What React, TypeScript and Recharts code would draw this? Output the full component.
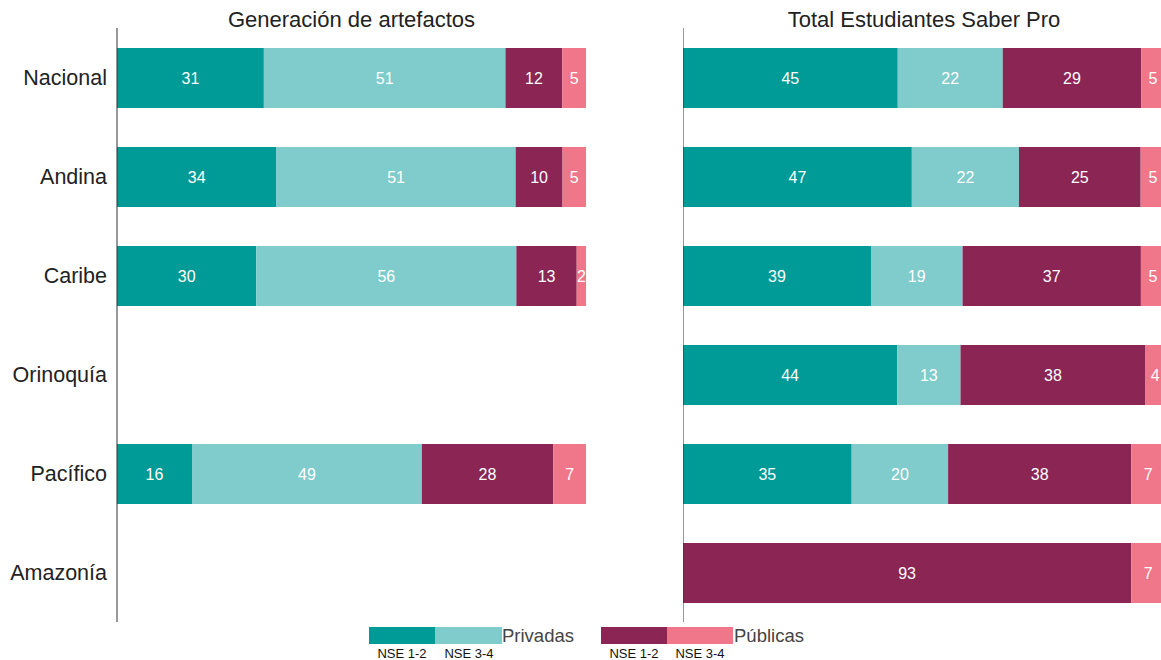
import React from "react";
import { BarChart, Bar, XAxis, YAxis, LabelList, ReferenceLine } from "recharts";

const regions = ["Nacional", "Andina", "Caribe", "Orinoquía", "Pacífico", "Amazonía"];

// Generación de artefactos (0 = sin dato)
const artPrivNse12 = [31, 34, 30, 0, 16, 0];
const artPrivNse34 = [51, 51, 56, 0, 49, 0];
const artPubNse12 = [12, 10, 13, 0, 28, 0];
const artPubNse34 = [5, 5, 2, 0, 7, 0];

// Total Estudiantes Saber Pro
const totPrivNse12 = [45, 47, 39, 44, 35, 0];
const totPrivNse34 = [22, 22, 19, 13, 20, 0];
const totPubNse12 = [29, 25, 37, 38, 38, 93];
const totPubNse34 = [5, 5, 5, 4, 7, 7];

const COLORS = ["#009a97", "#80cbcb", "#8a2554", "#f07689"];
const KEYS = ["p12", "p34", "u12", "u34"];
const FONT = "'Liberation Sans', Arial, sans-serif";

const leftData = regions.map((region, i) => ({
  region,
  p12: artPrivNse12[i],
  p34: artPrivNse34[i],
  u12: artPubNse12[i],
  u34: artPubNse34[i],
}));

const rightData = regions.map((region, i) => ({
  region,
  p12: totPrivNse12[i],
  p34: totPrivNse34[i],
  u12: totPubNse12[i],
  u34: totPubNse34[i],
}));

const hideZero = (v: any) => (v ? v : "");

const renderBars = () =>
  KEYS.map((k, i) => (
    <Bar key={k} dataKey={k} stackId="s" fill={COLORS[i]} barSize={60} isAnimationActive={false}>
      <LabelList dataKey={k} position="center" fill="#ffffff" fontSize={16} formatter={hideZero} />
    </Bar>
  ));

const Legend = () => (
  <svg width={1161} height={50} style={{ position: "absolute", left: 0, top: 615 }} fontFamily={FONT}>
    <rect x={369} y={12} width={66} height={17} fill={COLORS[0]} />
    <rect x={435} y={12} width={67} height={17} fill={COLORS[1]} />
    <text x={502} y={27} fontSize={18.5} fill="#444">Privadas</text>
    <text x={402} y={43} fontSize={13} fill="#111" textAnchor="middle">NSE 1-2</text>
    <text x={469} y={43} fontSize={13} fill="#111" textAnchor="middle">NSE 3-4</text>

    <rect x={601} y={12} width={66} height={17} fill={COLORS[2]} />
    <rect x={667} y={12} width={66} height={17} fill={COLORS[3]} />
    <text x={734} y={27} fontSize={18.5} fill="#444">Públicas</text>
    <text x={634} y={43} fontSize={13} fill="#111" textAnchor="middle">NSE 1-2</text>
    <text x={700} y={43} fontSize={13} fill="#111" textAnchor="middle">NSE 3-4</text>
  </svg>
);

export default function App() {
  return (
    <div
      style={{
        position: "fixed",
        left: 0,
        top: 0,
        width: 1161,
        height: 660,
        overflow: "hidden",
        background: "#fff",
        fontFamily: FONT,
      }}
    >
      <div style={{ position: "absolute", left: 117, top: 7, width: 469, textAlign: "center", fontSize: 22, color: "#222" }}>
        Generación de artefactos
      </div>
      <div style={{ position: "absolute", left: 683, top: 7, width: 482, textAlign: "center", fontSize: 22, color: "#222" }}>
        Total Estudiantes Saber Pro
      </div>

      <div style={{ position: "absolute", left: 0, top: 0 }}>
        <BarChart
          width={600}
          height={660}
          data={leftData}
          layout="vertical"
          stackOffset="expand"
          margin={{ top: 28, right: 14, bottom: 38, left: 0 }}
        >
          <XAxis type="number" hide domain={[0, 1]} />
          <YAxis
            type="category"
            dataKey="region"
            width={117}
            tickLine={false}
            axisLine={{ stroke: "#333" }}
            tickMargin={4}
            tick={{ fontSize: 21.5, fill: "#222", fontFamily: FONT }}
          />
          {renderBars()}
        </BarChart>
      </div>

      <div style={{ position: "absolute", left: 683, top: 0 }}>
        <BarChart
          width={482}
          height={660}
          data={rightData}
          layout="vertical"
          stackOffset="expand"
          margin={{ top: 28, right: 0, bottom: 38, left: 0 }}
        >
          <XAxis type="number" hide domain={[0, 1]} />
          <YAxis type="category" dataKey="region" hide />
          {renderBars()}
          <ReferenceLine x={0} stroke="#333" />
        </BarChart>
      </div>

      <Legend />
    </div>
  );
}
